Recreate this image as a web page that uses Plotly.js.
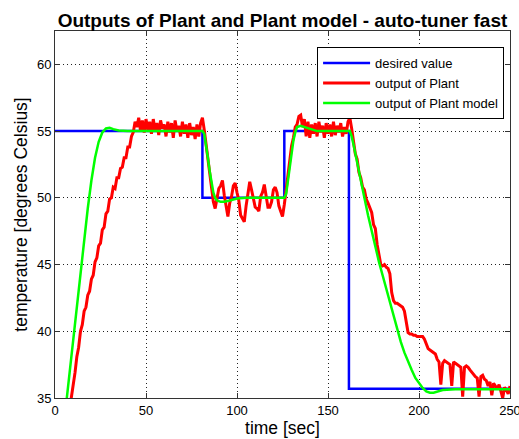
<!DOCTYPE html>
<html>
<head>
<meta charset="utf-8">
<script src="https://cdn.plot.ly/plotly-3.0.1.min.js"></script>
<style>html,body{margin:0;padding:0;background:#fff;}#chart{width:519px;height:439px;}</style>
</head>
<body>
<div id="chart"></div>
<script>
// desired value (setpoint) – step changes
var desiredT = [0, 81, 81, 126, 126, 161.5, 161.5, 250];
var desiredY = [55, 55, 50, 50, 55, 55, 35.7, 35.7];

// output of Plant, sampled every 1 s from t = 0 to 250
var plantY = [
  26.8, 27.7, 28.6, 29.6, 30.5, 31.4, 32.3, 33.2, 34.1, 34.9,
  36.1, 36.9, 38.1, 38.8, 40.0, 40.5, 41.5, 41.8, 42.7, 43.0,
  43.9, 44.2, 45.2, 45.5, 46.4, 46.6, 47.6, 47.8, 48.8, 49.0,
  49.9, 50.0, 50.8, 50.7, 51.5, 51.5, 52.2, 52.3, 53.0, 53.0,
  53.8, 53.8, 54.6, 54.9, 55.7, 55.3, 56.0, 55.0, 55.8, 54.9,
  55.9, 55.1, 55.7, 54.8, 55.9, 55.0, 55.6, 54.7, 55.8, 55.2,
  55.5, 54.6, 55.7, 54.9, 55.6, 54.5, 55.8, 55.0, 55.4, 54.6,
  55.7, 54.8, 55.5, 54.5, 55.6, 54.7, 55.3, 54.4, 55.5, 54.6,
  55.6, 56.0, 55.1, 54.0, 52.8, 51.6, 50.6, 49.7, 49.2, 49.9,
  50.7, 50.9, 51.3, 50.2, 49.3, 48.6, 49.6, 50.1, 50.9, 51.1,
  50.4, 49.8, 48.7, 48.5, 48.2, 49.4, 50.3, 51.2, 50.6, 50.0,
  49.3, 49.2, 49.0, 50.1, 50.4, 51.0, 50.2, 49.3, 49.3, 49.7,
  50.6, 50.8, 50.4, 49.4, 49.0, 48.6, 49.5, 50.6, 51.9, 52.7,
  53.9, 54.5, 55.3, 55.5, 56.1, 56.2, 55.3, 55.9, 54.6, 55.7,
  54.5, 55.5, 54.8, 55.6, 54.6, 55.7, 54.9, 55.4, 54.5, 55.6,
  54.8, 55.5, 54.6, 55.7, 54.7, 55.4, 54.9, 55.6, 54.6, 55.3,
  54.8, 55.7, 56.0, 55.2, 54.3, 53.3, 52.9, 51.9, 51.5, 50.8,
  50.6, 49.9, 49.6, 49.2, 48.9, 48.0, 47.7, 46.5, 45.6, 45.0,
  44.9, 45.0, 44.8, 44.7, 44.3, 42.9, 42.3, 42.1, 42.1, 42.0,
  41.9, 41.8, 41.5, 40.6, 39.9, 39.8, 39.8, 39.7, 39.7, 39.6,
  39.6, 39.6, 39.6, 39.4, 39.1, 38.7, 38.6, 38.5, 38.4, 38.3,
  37.9, 37.7, 36.0, 37.6, 37.8, 37.7, 37.6, 37.5, 35.9, 37.7,
  37.6, 37.5, 37.4, 37.3, 35.1, 37.3, 37.4, 37.3, 37.1, 36.9,
  36.8, 36.6, 36.5, 35.1, 36.6, 36.7, 36.4, 36.3, 35.9, 36.2,
  35.2, 36.1, 35.9, 35.7, 36.0, 35.5, 35.0, 35.8, 35.6, 35.3, 35.9
];
var plantT = plantY.map(function (v, i) { return i; });

// output of Plant model
var modelT = [0, 2, 4, 6, 8, 10, 12, 14, 16, 18, 20, 22, 24, 26, 28, 30, 32, 35, 40,
  81, 82, 83, 84, 85, 86, 87, 88, 89, 91, 93, 96, 100, 105,
  126, 127, 128, 129, 130, 131, 132, 133, 135, 137, 140, 144,
  162, 163, 164, 166, 168, 170, 172, 174, 176, 178, 180, 182, 184, 186, 188, 190,
  192, 194, 196, 198, 200, 202, 204, 206, 208, 210, 213, 220, 250];
var modelY = [27.0, 29.5, 32.0, 34.3, 36.8, 39.3, 41.8, 44.3, 46.8, 49.2, 51.3, 53.0, 54.2, 54.9, 55.2, 55.25, 55.15, 55.05, 55.0,
  55.0, 54.8, 54.0, 53.0, 52.0, 51.1, 50.4, 50.0, 49.8, 49.7, 49.7, 49.8, 49.95, 50.0,
  50.0, 50.3, 51.3, 52.4, 53.4, 54.3, 54.9, 55.3, 55.4, 55.3, 55.15, 55.0,
  55.0, 54.6, 54.0, 52.6, 51.3, 50.0, 48.7, 47.5, 46.4, 45.2, 44.2, 43.2, 42.2, 41.2, 40.0, 39.2,
  38.4, 37.7, 37.1, 36.5, 36.1, 35.75, 35.5, 35.4, 35.4, 35.5, 35.6, 35.65, 35.65];

var xTicks = [0, 50, 100, 150, 200, 250];
var yTicks = [35, 40, 45, 50, 55, 60];

var traces = [
  {x: desiredT, y: desiredY, name: 'desired value', mode: 'lines', line: {color: '#0000ff', width: 2.5}},
  {x: plantT, y: plantY, name: 'output of Plant', mode: 'lines', line: {color: '#ff0000', width: 3}},
  {x: modelT, y: modelY, name: 'output of Plant model', mode: 'lines', line: {color: '#00ff00', width: 2.5}}
];

var FONT = 'Liberation Sans, Arial, Helvetica, sans-serif';
var axisCommon = {
  showline: true, linecolor: '#333', linewidth: 1, mirror: 'ticks',
  ticks: 'inside', ticklen: 5, tickcolor: '#333',
  showgrid: true, gridcolor: '#222', griddash: '1px,3px', gridwidth: 1,
  zeroline: false, tickfont: {family: FONT, size: 13, color: '#000'},
  ticklabeloverflow: 'allow'
};

var layout = {
  width: 519, height: 439,
  margin: {l: 55, r: 9, t: 31, b: 41},
  paper_bgcolor: '#fff', plot_bgcolor: '#fff',
  font: {family: FONT, color: '#000'},
  title: {text: '<b>Outputs of Plant and Plant model - auto-tuner fast</b>', font: {family: FONT, size: 19, color: '#000'},
          xref: 'paper', x: 0.5, xanchor: 'center', yref: 'container', y: 0.953, yanchor: 'middle'},
  xaxis: Object.assign({}, axisCommon, {range: [0, 250], tickvals: xTicks, ticktext: xTicks.map(String),
          title: {text: 'time [sec]', font: {family: FONT, size: 17.5, color: '#000'}, standoff: 2}}),
  yaxis: Object.assign({}, axisCommon, {range: [35, 62.5], tickvals: yTicks, ticktext: yTicks.map(String),
          title: {text: 'temperature [degrees Celsius]', font: {family: FONT, size: 17.5, color: '#000'}, standoff: 4}}),
  showlegend: true,
  legend: {x: 0.987, xanchor: 'right', y: 0.956, yanchor: 'top', bgcolor: '#fff', bordercolor: '#000', borderwidth: 1,
           font: {family: FONT, size: 13, color: '#000'}, tracegroupgap: 0, itemwidth: 47}
};

Plotly.newPlot('chart', traces, layout, {displayModeBar: false, staticPlot: true});
</script>
</body>
</html>
